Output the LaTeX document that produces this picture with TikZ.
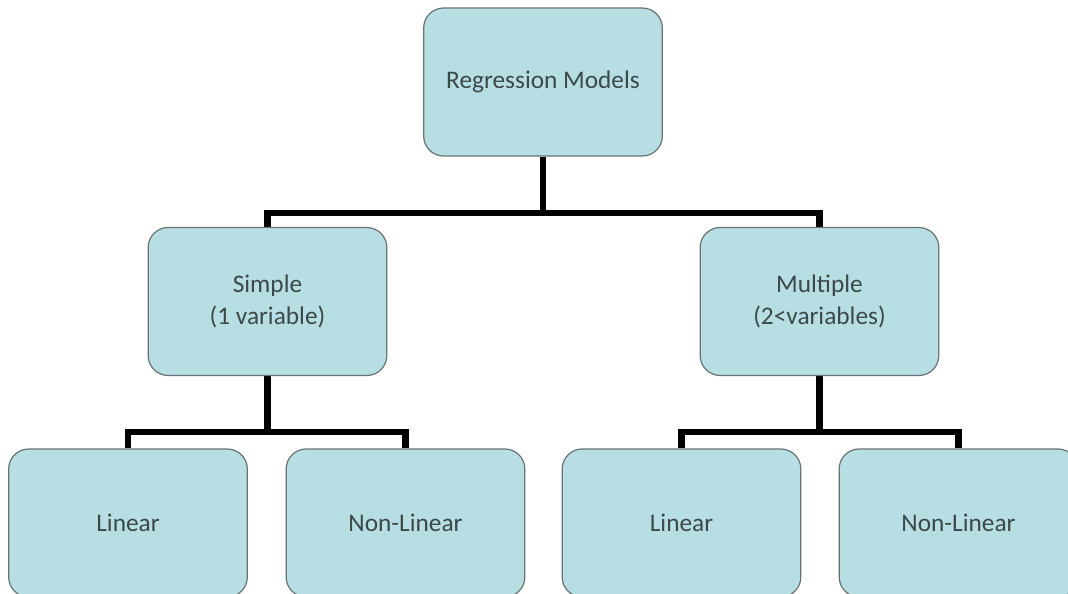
\documentclass[tikz,border=0pt]{standalone}
\usepackage{fontspec}
\setmainfont{Carlito}
\usetikzlibrary{backgrounds}
\definecolor{boxfill}{RGB}{183,222,226}
\definecolor{boxline}{RGB}{105,115,115}
\definecolor{boxtext}{RGB}{60,72,74}
\tikzset{
  box/.style={draw=boxline, line width=0.9pt, fill=boxfill, rounded corners=15pt,
    minimum width=179pt, minimum height=111pt, inner sep=0pt, align=center,
    text=boxtext, font=\fontsize{19}{23.5}\selectfont},
  conn/.style={draw=black, line width=5.2pt, line join=miter}
}
\begin{document}
\begin{tikzpicture}[x=0.75pt,y=-0.75pt]
\path[use as bounding box, clip] (0,0) rectangle (1068,593);
\node[box] (top) at (543,82) {Regression Models};
\node[box] (simple) at (267.5,301.5) {Simple\\(1 variable)};
\node[box] (multiple) at (819.5,301.5) {Multiple\\(2<variables)};
\node[box] (lin1) at (128,523) {Linear};
\node[box] (non1) at (405.5,523) {Non-Linear};
\node[box] (lin2) at (681.5,523) {Linear};
\node[box] (non2) at (958.5,523) {Non-Linear};
\coordinate (j1) at (543,213);
\coordinate (j2) at (267.5,432);
\coordinate (j3) at (819.5,432);
\begin{scope}[on background layer]
\fill[white] (0,0) rectangle (1068,593);
\draw[conn] (top.south) -- (j1);
\draw[conn] (simple.north) |- (j1) -| (multiple.north);
\draw[conn] (simple.south) -- (j2);
\draw[conn] (lin1.north) |- (j2) -| (non1.north);
\draw[conn] (multiple.south) -- (j3);
\draw[conn] (lin2.north) |- (j3) -| (non2.north);
\end{scope}
\end{tikzpicture}
\end{document}
